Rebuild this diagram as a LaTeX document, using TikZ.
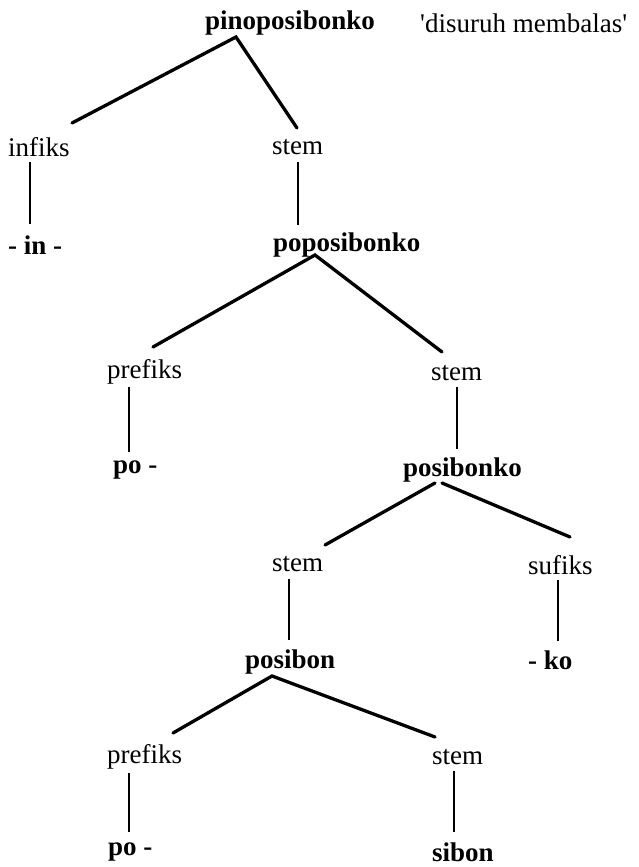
\documentclass[tikz,border=0pt]{standalone}
\usepackage{fontspec}
\setmainfont{Liberation Serif}
\newfontfamily\glossfont{Liberation Serif}
\begin{document}
\begin{tikzpicture}[x=1pt,y=-1pt,
  lbl/.style={anchor=west,inner sep=0pt,font=\fontsize{27}{32}\selectfont},
  mor/.style={anchor=west,inner sep=0pt,font=\fontsize{27}{32}\selectfont\bfseries},
  branch/.style={line width=3.3pt,line cap=round},
  stalk/.style={line width=2.4pt}]
\useasboundingbox (0,0) rectangle (638,867);
% texts
\node[mor] (pino) at (205,23) {pinoposibonko};
\node[lbl,font=\fontsize{27}{32}\glossfont] (gloss) at (420,23) {'disuruh membalas'};
\node[lbl] (infiks) at (8,147) {infiks};
\node[lbl] (stemA) at (272,147) {stem};
\node[mor] (in) at (8,245) {- in -};
\node[mor] (popo) at (273,245) {poposibonko};
\node[lbl] (prefA) at (107,372) {prefiks};
\node[lbl] (stemB) at (431,373) {stem};
\node[mor] (poA) at (113,470) {po -};
\node[mor] (posibonko) at (403,470) {posibonko};
\node[lbl] (stemC) at (272,564) {stem};
\node[lbl] (sufiks) at (528,565) {sufiks};
\node[mor] (posibon) at (245,662) {posibon};
\node[mor] (ko) at (528,660) {- ko};
\node[lbl] (prefB) at (107,757) {prefiks};
\node[lbl] (stemD) at (432,757) {stem};
\node[mor] (poB) at (108,852) {po -};
\node[mor] (sibon) at (432,852) {sibon};
% connector ends
\coordinate (pinoB) at (236,37);
\coordinate (infiksT) at (72,123);
\coordinate (stemAT) at (297,128);
\coordinate (infiksB) at (30,162);
\coordinate (inT) at (30,224);
\coordinate (stemAB) at (298,162);
\coordinate (popoT) at (298,225);
\coordinate (popoB) at (315,255);
\coordinate (prefAT) at (153,347);
\coordinate (stemBT) at (442,352);
\coordinate (prefAB) at (129,387);
\coordinate (poAT) at (129,452);
\coordinate (stemBB) at (457,387);
\coordinate (posibonkoT) at (457,449);
\coordinate (posibonkoBL) at (435,483);
\coordinate (posibonkoBR) at (442,483);
\coordinate (stemCT) at (325,545);
\coordinate (sufiksT) at (570,537);
\coordinate (stemCB) at (289,579);
\coordinate (posibonT) at (289,640);
\coordinate (sufiksB) at (558,580);
\coordinate (koT) at (558,641);
\coordinate (posibonB) at (272,676);
\coordinate (prefBT) at (173,733);
\coordinate (stemDT) at (435,737);
\coordinate (prefBB) at (129,773);
\coordinate (poBT) at (129,832);
\coordinate (stemDB) at (454,771);
\coordinate (sibonT) at (454,832);
% connectors
\draw[branch] (infiksT) -- (pinoB) -- (stemAT);
\draw[stalk] (infiksB) -- (inT);
\draw[stalk] (stemAB) -- (popoT);
\draw[branch] (prefAT) -- (popoB) -- (stemBT);
\draw[stalk] (prefAB) -- (poAT);
\draw[stalk] (stemBB) -- (posibonkoT);
\draw[branch] (posibonkoBL) -- (stemCT);
\draw[branch] (posibonkoBR) -- (sufiksT);
\draw[stalk] (stemCB) -- (posibonT);
\draw[stalk] (sufiksB) -- (koT);
\draw[branch] (prefBT) -- (posibonB) -- (stemDT);
\draw[stalk] (prefBB) -- (poBT);
\draw[stalk] (stemDB) -- (sibonT);
\end{tikzpicture}
\end{document}
